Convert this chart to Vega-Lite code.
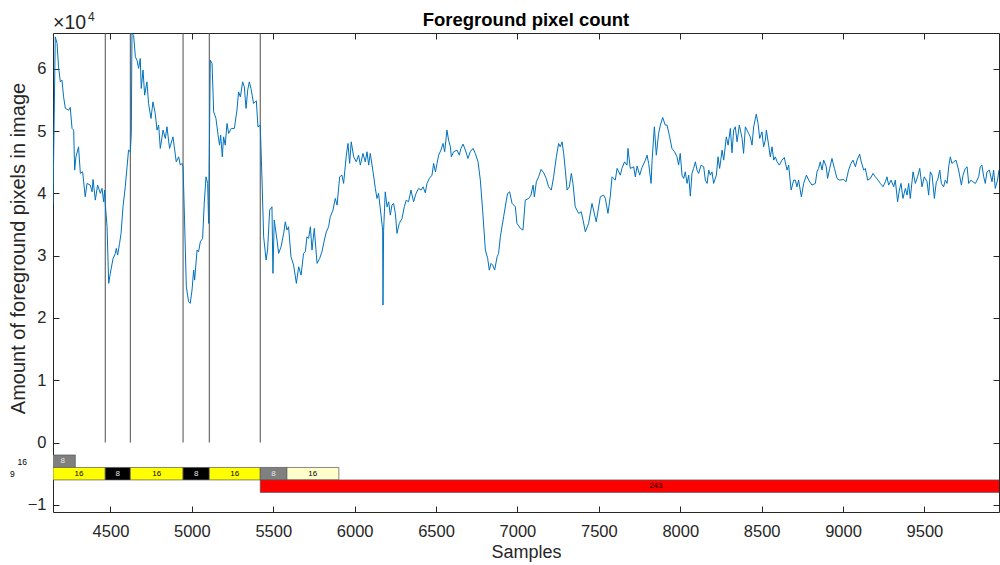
{
  "$schema": "https://vega.github.io/schema/vega-lite/v6.json",
  "width": 946,
  "height": 479,
  "autosize": {"type": "none"},
  "padding": {"left": 53, "top": 33, "right": 1, "bottom": 53},
  "background": "white",
  "title": {"text": "Foreground pixel count", "font": "Liberation Sans", "fontSize": 18.5, "fontWeight": "bold", "color": "#000000", "anchor": "middle", "baseline": "alphabetic", "offset": -34},
  "config": {
    "view": {"stroke": "#262626", "strokeWidth": 1},
    "axis": {
      "domain": false, "grid": false,
      "tickColor": "#262626", "tickSize": -6, "tickWidth": 1,
      "labelFont": "Liberation Sans", "labelFontSize": 16.5, "labelColor": "#262626",
      "titleFont": "Liberation Sans", "titleFontSize": 18, "titleColor": "#262626", "titleFontWeight": "normal"
    }
  },
  "datasets": {
    "signal": [
{"s":4147,"v":38390},{"s":4161,"v":65130},{"s":4172,"v":64070},{"s":4181,"v":60320},{"s":4192,"v":57910},{"s":4202,"v":58180},{"s":4212,"v":55500},{"s":4223,"v":53640},{"s":4243,"v":53370},{"s":4253,"v":53800},{"s":4264,"v":50430},{"s":4274,"v":50160},{"s":4280,"v":43740},{"s":4288,"v":45870},{"s":4304,"v":47480},{"s":4315,"v":43210},{"s":4329,"v":43460},{"s":4345,"v":39450},{"s":4356,"v":41600},{"s":4376,"v":41330},{"s":4387,"v":40250},{"s":4393,"v":42240},{"s":4407,"v":38920},{"s":4421,"v":41330},{"s":4438,"v":40000},{"s":4448,"v":40800},{"s":4458,"v":38650},{"s":4464,"v":40530},{"s":4468,"v":38390},{"s":4479,"v":34640},{"s":4489,"v":25550},{"s":4499,"v":27160},{"s":4516,"v":29560},{"s":4530,"v":30370},{"s":4536,"v":31170},{"s":4544,"v":30090},{"s":4556,"v":31970},{"s":4565,"v":33580},{"s":4577,"v":37850},{"s":4591,"v":41060},{"s":4602,"v":44270},{"s":4611,"v":46950},{"s":4622,"v":46680},{"s":4628,"v":49630},{"s":4632,"v":65680},{"s":4642,"v":65400},{"s":4653,"v":61920},{"s":4663,"v":61390},{"s":4673,"v":60060},{"s":4683,"v":61660},{"s":4689,"v":56850},{"s":4700,"v":59790},{"s":4710,"v":55770},{"s":4724,"v":57910},{"s":4734,"v":54440},{"s":4749,"v":52030},{"s":4761,"v":54700},{"s":4775,"v":52840},{"s":4786,"v":50160},{"s":4796,"v":50960},{"s":4806,"v":47220},{"s":4823,"v":50160},{"s":4837,"v":48820},{"s":4847,"v":50690},{"s":4863,"v":47220},{"s":4884,"v":49080},{"s":4904,"v":45070},{"s":4919,"v":45870},{"s":4929,"v":44540},{"s":4939,"v":44810},{"s":4946,"v":44270},{"s":4955,"v":35710},{"s":4966,"v":25010},{"s":4980,"v":22600},{"s":4990,"v":22340},{"s":5001,"v":24480},{"s":5011,"v":27690},{"s":5017,"v":26080},{"s":5032,"v":30900},{"s":5041,"v":30620},{"s":5052,"v":32230},{"s":5066,"v":32770},{"s":5076,"v":38390},{"s":5087,"v":42660},{"s":5097,"v":41600},{"s":5103,"v":35180},{"s":5113,"v":61390},{"s":5124,"v":60860},{"s":5134,"v":53090},{"s":5148,"v":52030},{"s":5161,"v":49350},{"s":5170,"v":47750},{"s":5177,"v":49350},{"s":5187,"v":45870},{"s":5195,"v":49080},{"s":5205,"v":47750},{"s":5216,"v":51230},{"s":5226,"v":49630},{"s":5242,"v":50430},{"s":5261,"v":50430},{"s":5277,"v":53370},{"s":5287,"v":56300},{"s":5298,"v":55500},{"s":5312,"v":57910},{"s":5322,"v":57110},{"s":5333,"v":53640},{"s":5343,"v":56580},{"s":5353,"v":57910},{"s":5363,"v":56850},{"s":5379,"v":54440},{"s":5396,"v":54860},{"s":5406,"v":50690},{"s":5420,"v":50960},{"s":5431,"v":42130},{"s":5441,"v":33030},{"s":5456,"v":29290},{"s":5465,"v":30900},{"s":5478,"v":37320},{"s":5492,"v":37850},{"s":5498,"v":27160},{"s":5506,"v":35710},{"s":5523,"v":32500},{"s":5533,"v":30370},{"s":5548,"v":31430},{"s":5564,"v":33580},{"s":5574,"v":35440},{"s":5584,"v":34110},{"s":5594,"v":34640},{"s":5609,"v":29820},{"s":5625,"v":28490},{"s":5642,"v":25550},{"s":5656,"v":28220},{"s":5671,"v":26880},{"s":5686,"v":30370},{"s":5697,"v":30620},{"s":5707,"v":33030},{"s":5717,"v":32770},{"s":5728,"v":34640},{"s":5738,"v":30900},{"s":5752,"v":34380},{"s":5769,"v":28760},{"s":5785,"v":29560},{"s":5799,"v":30620},{"s":5814,"v":32500},{"s":5826,"v":33830},{"s":5840,"v":34640},{"s":5850,"v":36240},{"s":5867,"v":37320},{"s":5881,"v":39190},{"s":5892,"v":38120},{"s":5908,"v":42660},{"s":5922,"v":42930},{"s":5932,"v":41600},{"s":5949,"v":46140},{"s":5959,"v":48020},{"s":5969,"v":44810},{"s":5979,"v":48280},{"s":5994,"v":45870},{"s":6010,"v":45070},{"s":6024,"v":46140},{"s":6035,"v":44540},{"s":6051,"v":46420},{"s":6065,"v":45070},{"s":6076,"v":46680},{"s":6086,"v":44540},{"s":6096,"v":46420},{"s":6113,"v":43460},{"s":6127,"v":40800},{"s":6137,"v":39190},{"s":6147,"v":40000},{"s":6162,"v":36510},{"s":6172,"v":34110},{"s":6174,"v":22070},{"s":6178,"v":34110},{"s":6188,"v":40250},{"s":6199,"v":37850},{"s":6209,"v":38650},{"s":6219,"v":36510},{"s":6229,"v":38120},{"s":6239,"v":38390},{"s":6250,"v":36790},{"s":6260,"v":33580},{"s":6274,"v":35180},{"s":6291,"v":35980},{"s":6305,"v":37850},{"s":6317,"v":38920},{"s":6331,"v":38650},{"s":6346,"v":40530},{"s":6362,"v":38650},{"s":6377,"v":40000},{"s":6393,"v":40800},{"s":6408,"v":40530},{"s":6420,"v":41060},{"s":6434,"v":40090},{"s":6444,"v":41600},{"s":6459,"v":42400},{"s":6475,"v":42930},{"s":6485,"v":44810},{"s":6496,"v":43460},{"s":6506,"v":44810},{"s":6516,"v":46140},{"s":6530,"v":46950},{"s":6543,"v":48020},{"s":6553,"v":46680},{"s":6567,"v":50160},{"s":6577,"v":48550},{"s":6588,"v":47480},{"s":6594,"v":45870},{"s":6608,"v":46680},{"s":6629,"v":46950},{"s":6643,"v":46140},{"s":6653,"v":47220},{"s":6666,"v":47910},{"s":6680,"v":46950},{"s":6696,"v":45610},{"s":6710,"v":46680},{"s":6727,"v":47220},{"s":6741,"v":46420},{"s":6758,"v":45070},{"s":6772,"v":42130},{"s":6786,"v":37320},{"s":6803,"v":30900},{"s":6817,"v":29560},{"s":6827,"v":27690},{"s":6838,"v":28760},{"s":6848,"v":28490},{"s":6860,"v":27690},{"s":6875,"v":29820},{"s":6884,"v":30370},{"s":6895,"v":33030},{"s":6915,"v":36240},{"s":6932,"v":38920},{"s":6940,"v":40000},{"s":6952,"v":40250},{"s":6967,"v":38390},{"s":6987,"v":37850},{"s":6997,"v":35180},{"s":7018,"v":34380},{"s":7034,"v":34110},{"s":7048,"v":38920},{"s":7069,"v":39190},{"s":7083,"v":39720},{"s":7096,"v":41330},{"s":7104,"v":39450},{"s":7116,"v":41860},{"s":7130,"v":42660},{"s":7145,"v":43850},{"s":7161,"v":43300},{"s":7177,"v":42400},{"s":7191,"v":41060},{"s":7208,"v":40530},{"s":7222,"v":42660},{"s":7239,"v":45870},{"s":7253,"v":48020},{"s":7263,"v":47480},{"s":7274,"v":48280},{"s":7284,"v":46420},{"s":7294,"v":43740},{"s":7305,"v":40530},{"s":7319,"v":41060},{"s":7331,"v":43210},{"s":7341,"v":41600},{"s":7355,"v":37850},{"s":7376,"v":36790},{"s":7392,"v":37040},{"s":7403,"v":35710},{"s":7417,"v":33830},{"s":7437,"v":35180},{"s":7458,"v":38390},{"s":7484,"v":35440},{"s":7509,"v":39450},{"s":7529,"v":39720},{"s":7540,"v":39190},{"s":7556,"v":36790},{"s":7570,"v":39450},{"s":7581,"v":42660},{"s":7601,"v":42130},{"s":7612,"v":44010},{"s":7632,"v":42930},{"s":7642,"v":44010},{"s":7658,"v":45070},{"s":7673,"v":44540},{"s":7679,"v":47220},{"s":7693,"v":44010},{"s":7714,"v":44270},{"s":7724,"v":42660},{"s":7735,"v":44380},{"s":7751,"v":42930},{"s":7765,"v":44170},{"s":7786,"v":45340},{"s":7796,"v":46140},{"s":7806,"v":44810},{"s":7821,"v":41600},{"s":7827,"v":45340},{"s":7841,"v":50690},{"s":7853,"v":46140},{"s":7867,"v":49630},{"s":7878,"v":50960},{"s":7892,"v":52190},{"s":7908,"v":50960},{"s":7919,"v":50960},{"s":7935,"v":49080},{"s":7949,"v":47220},{"s":7965,"v":46680},{"s":7980,"v":45870},{"s":7990,"v":44540},{"s":8000,"v":46420},{"s":8011,"v":42930},{"s":8021,"v":42400},{"s":8031,"v":43460},{"s":8042,"v":41600},{"s":8052,"v":42930},{"s":8062,"v":39560},{"s":8072,"v":43210},{"s":8082,"v":44010},{"s":8093,"v":45070},{"s":8103,"v":43740},{"s":8113,"v":43210},{"s":8128,"v":44540},{"s":8144,"v":44270},{"s":8154,"v":42130},{"s":8165,"v":41600},{"s":8175,"v":43740},{"s":8185,"v":42930},{"s":8195,"v":43460},{"s":8205,"v":41600},{"s":8222,"v":42930},{"s":8232,"v":45870},{"s":8242,"v":44010},{"s":8257,"v":46950},{"s":8267,"v":45340},{"s":8283,"v":49080},{"s":8294,"v":47750},{"s":8308,"v":50430},{"s":8318,"v":46510},{"s":8328,"v":50160},{"s":8338,"v":50690},{"s":8349,"v":48280},{"s":8363,"v":50960},{"s":8380,"v":48820},{"s":8389,"v":46420},{"s":8400,"v":50690},{"s":8410,"v":50160},{"s":8420,"v":49630},{"s":8430,"v":49080},{"s":8441,"v":47750},{"s":8451,"v":50690},{"s":8467,"v":52720},{"s":8478,"v":51230},{"s":8488,"v":48820},{"s":8502,"v":49880},{"s":8512,"v":47480},{"s":8523,"v":48550},{"s":8529,"v":50160},{"s":8543,"v":47750},{"s":8553,"v":45870},{"s":8564,"v":47480},{"s":8574,"v":45340},{"s":8584,"v":45870},{"s":8595,"v":45070},{"s":8609,"v":44540},{"s":8625,"v":45340},{"s":8639,"v":45770},{"s":8656,"v":43740},{"s":8666,"v":44540},{"s":8681,"v":40530},{"s":8697,"v":42130},{"s":8707,"v":42130},{"s":8717,"v":41060},{"s":8727,"v":42130},{"s":8744,"v":39450},{"s":8758,"v":41600},{"s":8775,"v":42930},{"s":8789,"v":42130},{"s":8809,"v":41330},{"s":8830,"v":41600},{"s":8840,"v":43460},{"s":8850,"v":44010},{"s":8860,"v":45070},{"s":8871,"v":43740},{"s":8881,"v":45340},{"s":8897,"v":44270},{"s":8905,"v":42400},{"s":8918,"v":44010},{"s":8932,"v":45610},{"s":8947,"v":44010},{"s":8963,"v":42400},{"s":8979,"v":42130},{"s":9004,"v":42240},{"s":9018,"v":41860},{"s":9034,"v":43740},{"s":9049,"v":44810},{"s":9061,"v":45340},{"s":9076,"v":44270},{"s":9086,"v":45340},{"s":9102,"v":46300},{"s":9112,"v":45070},{"s":9127,"v":43740},{"s":9137,"v":44010},{"s":9151,"v":42130},{"s":9168,"v":42400},{"s":9184,"v":43210},{"s":9198,"v":42660},{"s":9215,"v":42130},{"s":9229,"v":41600},{"s":9246,"v":41060},{"s":9260,"v":41860},{"s":9270,"v":42660},{"s":9280,"v":41330},{"s":9295,"v":42130},{"s":9311,"v":41060},{"s":9321,"v":42130},{"s":9335,"v":38650},{"s":9346,"v":40530},{"s":9356,"v":41600},{"s":9368,"v":39190},{"s":9383,"v":40800},{"s":9393,"v":39720},{"s":9403,"v":41600},{"s":9413,"v":39190},{"s":9430,"v":43460},{"s":9444,"v":41600},{"s":9458,"v":42660},{"s":9471,"v":44010},{"s":9485,"v":41060},{"s":9499,"v":42660},{"s":9516,"v":41860},{"s":9526,"v":39720},{"s":9536,"v":43460},{"s":9547,"v":42930},{"s":9561,"v":39190},{"s":9573,"v":41860},{"s":9581,"v":42130},{"s":9594,"v":43740},{"s":9604,"v":41600},{"s":9618,"v":41060},{"s":9628,"v":42130},{"s":9639,"v":41600},{"s":9649,"v":44270},{"s":9659,"v":45870},{"s":9669,"v":44810},{"s":9680,"v":45070},{"s":9694,"v":45340},{"s":9710,"v":43740},{"s":9727,"v":41330},{"s":9737,"v":42930},{"s":9751,"v":44010},{"s":9762,"v":44270},{"s":9772,"v":41600},{"s":9786,"v":42130},{"s":9798,"v":41860},{"s":9813,"v":41600},{"s":9823,"v":42130},{"s":9833,"v":42660},{"s":9843,"v":44270},{"s":9853,"v":44540},{"s":9864,"v":42660},{"s":9874,"v":41600},{"s":9884,"v":43460},{"s":9899,"v":43740},{"s":9915,"v":41860},{"s":9925,"v":43740},{"s":9935,"v":40800},{"s":9949,"v":42130},{"s":9958,"v":43740}
    ],
    "blocks": [
      {"start": 4124, "end": 4284, "lo": -4000, "hi": -2000, "mid": 4206, "label": "8", "kind": "gray"},
      {"start": 4147, "end": 4468, "lo": -6000, "hi": -4000, "mid": 4307, "label": "16", "kind": "yellow"},
      {"start": 4468, "end": 4622, "lo": -6000, "hi": -4000, "mid": 4545, "label": "8", "kind": "black"},
      {"start": 4622, "end": 4946, "lo": -6000, "hi": -4000, "mid": 4784, "label": "16", "kind": "yellow"},
      {"start": 4946, "end": 5107, "lo": -6000, "hi": -4000, "mid": 5026, "label": "8", "kind": "black"},
      {"start": 5107, "end": 5420, "lo": -6000, "hi": -4000, "mid": 5263, "label": "16", "kind": "yellow"},
      {"start": 5420, "end": 5584, "lo": -6000, "hi": -4000, "mid": 5502, "label": "8", "kind": "gray"},
      {"start": 5584, "end": 5903, "lo": -6000, "hi": -4000, "mid": 5743, "label": "16", "kind": "lightyellow"},
      {"start": 5420, "end": 10280, "lo": -8000, "hi": -6000, "mid": 7850, "label": "243", "kind": "red"}
    ],
    "events": [{"s": 4468}, {"s": 4622}, {"s": 4946}, {"s": 5107}, {"s": 5420}],
    "rows": [
      {"s": 3958, "v": -3130, "label": "16"},
      {"s": 3897, "v": -5060, "label": "9"}
    ],
    "mult": [
      {"base": "×10", "exp": "4"}
    ]
  },
  "resolve": {"axis": {"x": "independent", "y": "independent"}},
  "layer": [
    {
      "data": {"name": "events"},
      "mark": {"type": "rule", "color": "#4d4d4d", "strokeWidth": 1},
      "encoding": {
        "x": {"field": "s", "type": "quantitative", "scale": {"domain": [4147, 9958], "nice": false, "zero": false},
              "axis": {"orient": "top", "values": [4500, 5000, 5500, 6000, 6500, 7000, 7500, 8000, 8500, 9000, 9500], "labels": false, "title": null}},
        "y": {"datum": 0, "type": "quantitative", "scale": {"domain": [-11150, 65750], "nice": false, "zero": false},
              "axis": {"orient": "right", "values": [-10000, 0, 10000, 20000, 30000, 40000, 50000, 60000], "labels": false, "title": null}},
        "y2": {"datum": 65750}
      }
    },
    {
      "data": {"name": "signal"},
      "mark": {"type": "line", "color": "#0072BD", "strokeWidth": 1, "clip": true},
      "encoding": {
        "x": {"field": "s", "type": "quantitative", "scale": {"domain": [4147, 9958], "nice": false, "zero": false},
              "axis": {"orient": "bottom", "values": [4500, 5000, 5500, 6000, 6500, 7000, 7500, 8000, 8500, 9000, 9500], "format": "d", "labelPadding": 17, "title": "Samples", "titleY": 45, "titleBaseline": "alphabetic"}},
        "y": {"field": "v", "type": "quantitative", "scale": {"domain": [-11150, 65750], "nice": false, "zero": false},
              "axis": {"orient": "left", "values": [-10000, 0, 10000, 20000, 30000, 40000, 50000, 60000], "labelExpr": "format(datum.value/10000, 'd')", "labelPadding": 13, "title": "Amount of foreground pixels in image", "titleFontSize": 20, "titleX": -35, "titleY": 215, "titleBaseline": "middle", "titleAlign": "center", "titleAngle": -90}}
      }
    },
    {
      "data": {"name": "blocks"},
      "mark": {"type": "rect", "stroke": "#555555", "strokeWidth": 0.7, "clip": true},
      "encoding": {
        "x": {"field": "start", "type": "quantitative", "scale": {"domain": [4147, 9958], "nice": false, "zero": false}, "axis": null},
        "x2": {"field": "end"},
        "y": {"field": "lo", "type": "quantitative", "scale": {"domain": [-11150, 65750], "nice": false, "zero": false}, "axis": null},
        "y2": {"field": "hi"},
        "fill": {"field": "kind", "type": "nominal", "legend": null,
                 "scale": {"domain": ["yellow", "black", "gray", "lightyellow", "red"], "range": ["#ffff00", "#000000", "#808080", "#ffffcc", "#ff0000"]}}
      }
    },
    {
      "data": {"name": "blocks"},
      "mark": {"type": "text", "font": "Liberation Sans", "fontSize": 8, "align": "center", "baseline": "middle"},
      "encoding": {
        "x": {"field": "mid", "type": "quantitative", "scale": {"domain": [4147, 9958], "nice": false, "zero": false}, "axis": null},
        "y": {"field": "lo", "type": "quantitative", "scale": {"domain": [-11150, 65750], "nice": false, "zero": false}, "axis": null},
        "yOffset": {"value": -6},
        "text": {"field": "label"},
        "color": {"condition": {"test": "datum.kind === 'black' || datum.kind === 'gray'", "value": "#e6e6e6"}, "value": "#000000"}
      }
    },
    {
      "data": {"name": "rows"},
      "mark": {"type": "text", "font": "Liberation Sans", "fontSize": 8.5, "align": "center", "baseline": "middle", "color": "#000000"},
      "encoding": {
        "x": {"field": "s", "type": "quantitative", "scale": {"domain": [4147, 9958], "nice": false, "zero": false}, "axis": null},
        "y": {"field": "v", "type": "quantitative", "scale": {"domain": [-11150, 65750], "nice": false, "zero": false}, "axis": null},
        "text": {"field": "label"}
      }
    },
    {
      "data": {"name": "mult"},
      "mark": {"type": "text", "font": "Liberation Sans", "fontSize": 19.5, "align": "left", "baseline": "alphabetic", "color": "#262626", "dy": -4},
      "encoding": {
        "x": {"datum": 4147, "type": "quantitative", "scale": {"domain": [4147, 9958], "nice": false, "zero": false}, "axis": null},
        "y": {"datum": 65750, "type": "quantitative", "scale": {"domain": [-11150, 65750], "nice": false, "zero": false}, "axis": null},
        "text": {"field": "base"}
      }
    },
    {
      "data": {"name": "mult"},
      "mark": {"type": "text", "font": "Liberation Sans", "fontSize": 12, "align": "left", "baseline": "alphabetic", "color": "#262626", "dx": 35, "dy": -12.5},
      "encoding": {
        "x": {"datum": 4147, "type": "quantitative", "scale": {"domain": [4147, 9958], "nice": false, "zero": false}, "axis": null},
        "y": {"datum": 65750, "type": "quantitative", "scale": {"domain": [-11150, 65750], "nice": false, "zero": false}, "axis": null},
        "text": {"field": "exp"}
      }
    }
  ]
}
